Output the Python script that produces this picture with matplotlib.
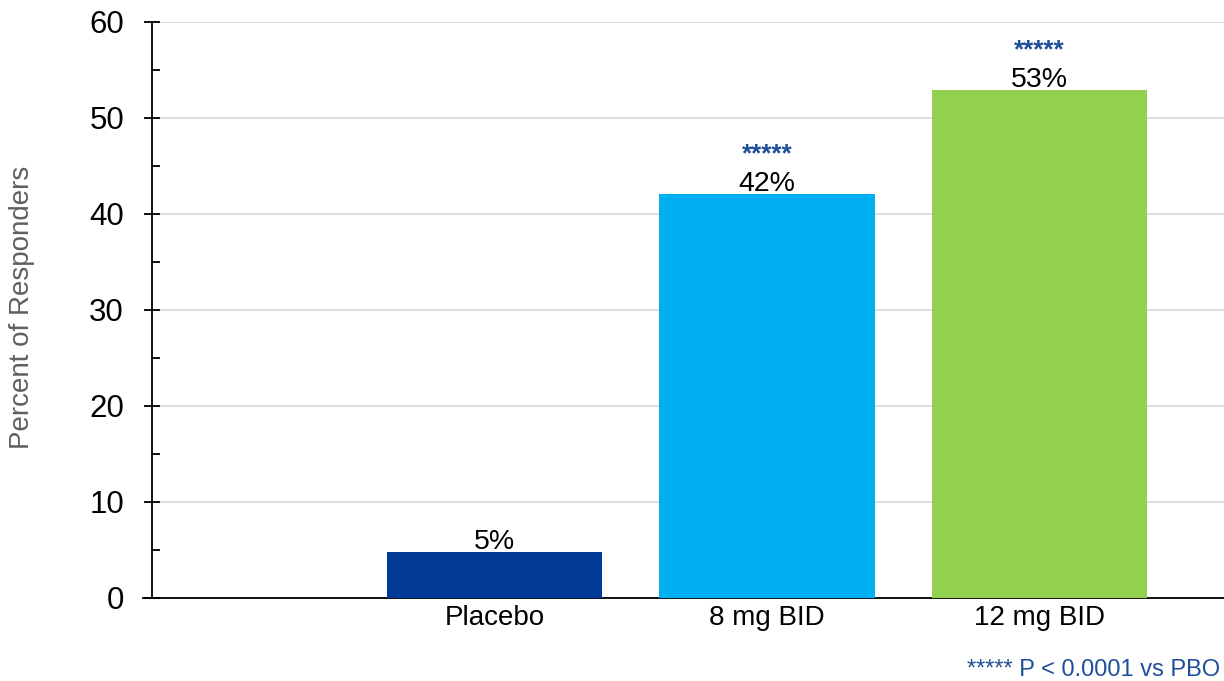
import matplotlib
matplotlib.use("Agg")
import matplotlib.pyplot as plt
from matplotlib.ticker import MultipleLocator

plt.rcParams['font.family'] = ['Liberation Sans', 'DejaVu Sans']

groups = ["Placebo", "8 mg BID", "12 mg BID"]
responders = [4.8, 42.1, 52.9]
labels = ["5%", "42%", "53%"]
stars = ["", "*****", "*****"]
colors = ["#003A96", "#00B0F0", "#92D050"]

fig = plt.figure(figsize=(12.24, 6.81), dpi=100)
ax = fig.add_axes([0.124, 0.122, 0.876, 0.846])

x = [1, 2, 3]
ax.bar(x, responders, width=0.79, color=colors, zorder=3)

for xi, v, lab, st in zip(x, responders, labels, stars):
    ax.annotate(lab, (xi, v), xytext=(0, 1.8), textcoords="offset points",
                ha="center", va="baseline", fontsize=20.5, color="black", zorder=4)
    if st:
        ax.annotate(st, (xi, v), xytext=(0, 23.5), textcoords="offset points",
                    ha="center", va="baseline", fontsize=18.5, color="#1F4E9A",
                    fontweight="bold", zorder=4)

ax.set_xlim(-0.257, 3.677)
ax.set_ylim(0, 60)
ax.set_xticks(x)
ax.set_xticklabels(groups, fontsize=20)
ax.tick_params(axis="x", length=0, pad=5)

ax.yaxis.set_major_locator(MultipleLocator(10))
ax.yaxis.set_minor_locator(MultipleLocator(5))
ax.tick_params(axis="y", which="major", direction="inout", length=12, width=1.3, labelsize=22.5, pad=14)
ax.tick_params(axis="y", which="minor", direction="in", length=6, width=1.3)

ax.grid(axis="y", color="#D9D9D9", linewidth=1.3, zorder=0)
for s in ["top", "right"]:
    ax.spines[s].set_visible(False)
for s in ["left", "bottom"]:
    ax.spines[s].set_linewidth(1.3)
# base line continues a little to the left of the y axis
ax.plot([-0.008, 0], [0, 0], transform=ax.transAxes, color="black", lw=1.3, clip_on=False)

fig.text(0.018, 0.549, "Percent of Responders", rotation=90, ha="center", va="center",
         fontsize=20, color="#5F5F5F")
fig.text(0.997, 0.008, "***** P < 0.0001 vs PBO", ha="right", va="baseline",
         fontsize=17, color="#1F4E9A")

fig.savefig("out.png", dpi=100)
